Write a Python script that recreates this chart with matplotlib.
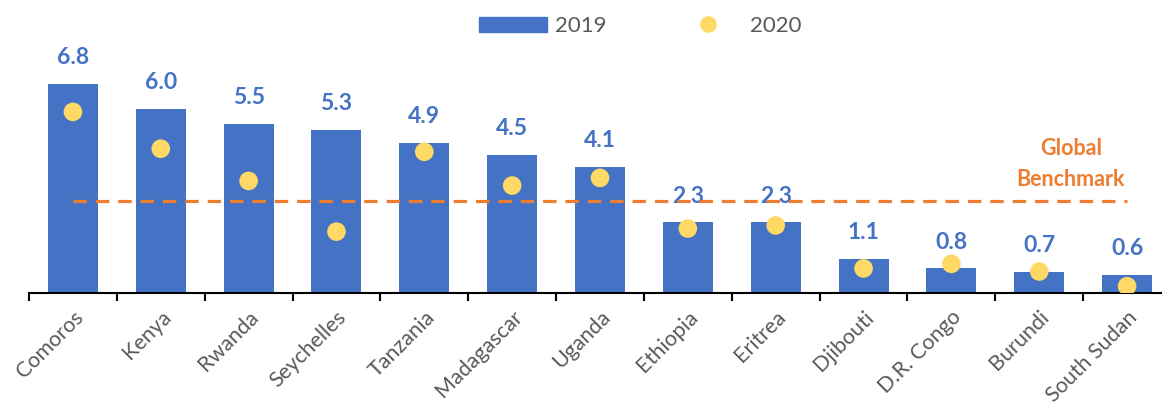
import numpy as np
import matplotlib.pyplot as plt
from matplotlib.lines import Line2D
from matplotlib.patches import Patch

plt.rcParams['font.family'] = ['Lato', 'DejaVu Sans']

# data
countries = ["Comoros", "Kenya", "Rwanda", "Seychelles", "Tanzania", "Madagascar", "Uganda",
             "Ethiopia", "Eritrea", "Djibouti", "D.R. Congo", "Burundi", "South Sudan"]
v2019 = [6.8, 6.0, 5.5, 5.3, 4.9, 4.5, 4.1, 2.3, 2.3, 1.1, 0.8, 0.7, 0.6]
v2020 = [5.9, 4.7, 3.65, 2.0, 4.6, 3.5, 3.75, 2.1, 2.2, 0.8, 0.95, 0.7, 0.22]
benchmark = 3.0

blue = "#4472C4"
yellow = "#FFD966"
orange = "#ED7D31"
grey = "#595959"

fig = plt.figure(figsize=(11.62, 4.07), dpi=100)
ax = fig.add_axes([29 / 1162, 114 / 407, 1142 / 1162, 9 * 30.7 / 407])

x = np.arange(len(countries))
ax.bar(x, v2019, width=0.57, color=blue, zorder=2)
ax.scatter(x, v2020, s=180, color=yellow, zorder=3, edgecolors="none")
ax.plot([x[0], x[-1]], [benchmark, benchmark], color=orange, lw=2.3,
        dashes=(4.2, 2.8), zorder=4)

for xi, v in zip(x, v2019):
    ax.annotate(f"{v:.1f}", (xi, v), xytext=(0, 19), textcoords="offset points",
                ha="center", va="center", color=blue, fontsize=16.5, fontweight="bold")

ax.text(x[-1] - 0.64, benchmark + 1.2, "Global\nBenchmark", ha="center", va="center",
        color=orange, fontsize=15.5, fontweight="bold", linespacing=1.55)

ax.set_xlim(-0.5, len(countries) - 0.5)
ax.set_ylim(0, 9)
for s in ["top", "right", "left"]:
    ax.spines[s].set_visible(False)
ax.spines["bottom"].set_linewidth(1.5)
ax.set_yticks([])
ax.set_xticks(x)
ax.set_xticklabels(countries, rotation=45, ha="right", rotation_mode="anchor",
                   fontsize=15.5, color=grey)
ax.tick_params(axis="x", which="major", length=0, pad=10)
ax.set_xticks(np.arange(-0.5, len(countries), 1), minor=True)
ax.tick_params(axis="x", which="minor", length=6, width=1.5)

handles = [Patch(color=blue, label="2019"),
           Line2D([], [], marker="o", ls="none", markersize=12, color=yellow,
                  markeredgecolor="none", label="2020")]
fig.legend(handles=handles, loc="center", bbox_to_anchor=(0.551, 0.936),
           ncol=2, frameon=False, fontsize=16, handlelength=3.1, handleheight=0.64,
           columnspacing=3.0, handletextpad=0.36, labelcolor=grey)

fig.savefig("out.png", dpi=100)
